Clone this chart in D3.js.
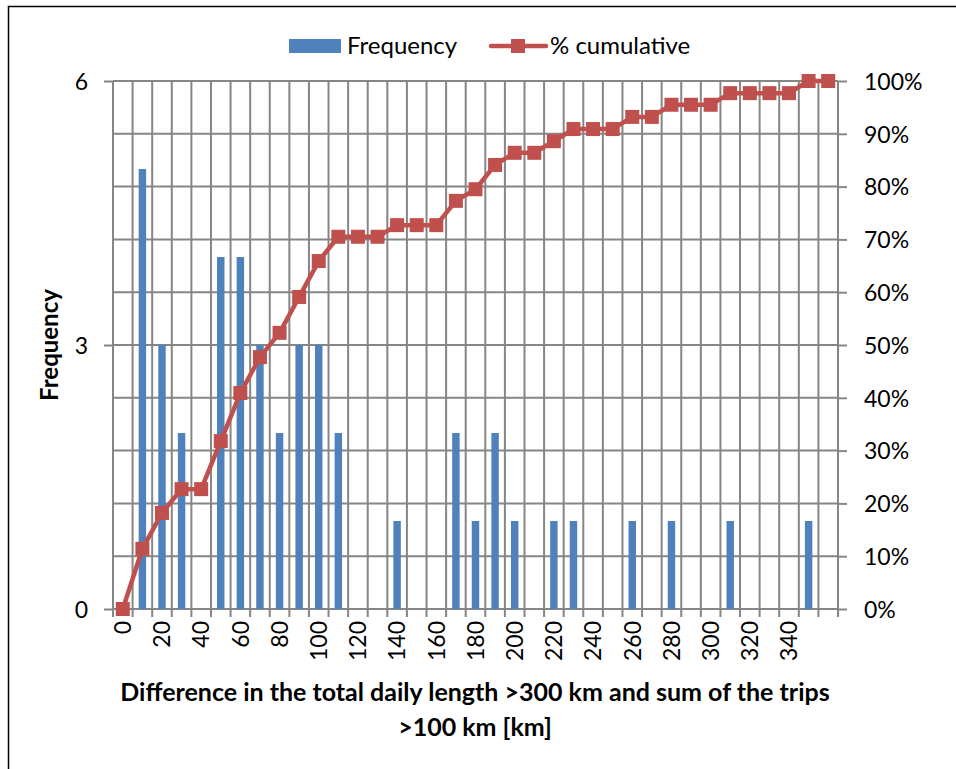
<!DOCTYPE html>
<html>
<head>
<meta charset="utf-8">
<script src="https://cdn.jsdelivr.net/npm/d3@7"></script>
<style>
  body { margin: 0; background: #fff; }
  text { font-family: Lato, "Open Sans", sans-serif; fill: #000; }
</style>
</head>
<body>
<div id="chart"></div>
<script>
// bins of the histogram (km)
const categories = [0, 10, 20, 30, 40, 50, 60, 70, 80, 90, 100, 110, 120, 130, 140, 150, 160, 170,
    180, 190, 200, 210, 220, 230, 240, 250, 260, 270, 280, 290, 300, 310, 320, 330, 340, 350, 360];
const frequency = [0, 5, 3, 2, 0, 4, 4, 3, 2, 3, 3, 2, 0, 0, 1, 0, 0, 2,
    1, 2, 1, 0, 1, 1, 0, 0, 1, 0, 1, 0, 0, 1, 0, 0, 0, 1, 0];
const cumulative = [0, 11.4, 18.2, 22.7, 22.7, 31.8, 40.9, 47.7, 52.3, 59.1, 65.9, 70.5, 70.5, 70.5, 72.7, 72.7, 72.7, 77.3,
    79.5, 84.1, 86.4, 86.4, 88.6, 90.9, 90.9, 90.9, 93.2, 93.2, 95.5, 95.5, 95.5, 97.7, 97.7, 97.7, 97.7, 100, 100];
const xTickLabels = [0, 20, 40, 60, 80, 100, 120, 140, 160, 180, 200, 220, 240, 260, 280, 300, 320, 340];
const leftTicks = [0, 3, 6];
const rightTicks = [0, 10, 20, 30, 40, 50, 60, 70, 80, 90, 100];

const W = 956, H = 769;
const plot = { left: 113, right: 838, top: 81, bottom: 609 };
const gridColor = "#868686";
const barColor = "#4f81bd";
const lineColor = "#c0504d";

const svg = d3.select("#chart")
    .append("svg")
    .attr("width", W)
    .attr("height", H);

svg.append("rect")
    .attr("x", 8.5).attr("y", 6.5)
    .attr("width", W).attr("height", H)
    .attr("fill", "#fff")
    .attr("stroke", "#000")
    .attr("stroke-width", 1.5);

const x = d3.scaleBand().domain(categories).range([plot.left, plot.right]).padding(0);
const y = d3.scaleLinear().domain([0, 6]).range([plot.bottom, plot.top]);
const y2 = d3.scaleLinear().domain([0, 100]).range([plot.bottom, plot.top]);

// horizontal grid follows the secondary axis
svg.append("g")
    .selectAll("line")
    .data(rightTicks)
    .enter()
    .append("line")
    .attr("x1", plot.left).attr("x2", plot.right)
    .attr("y1", d => y2(d)).attr("y2", d => y2(d))
    .attr("stroke", gridColor).attr("stroke-width", 2);

// vertical grid on the bin edges, running down as tick marks
const edges = categories.map(c => x(c)).concat([plot.right]);
svg.append("g")
    .selectAll("line")
    .data(edges)
    .enter()
    .append("line")
    .attr("x1", d => d).attr("x2", d => d)
    .attr("y1", plot.top).attr("y2", plot.bottom + 8)
    .attr("stroke", gridColor).attr("stroke-width", 2);

// left axis
const yAxis = svg.append("g")
    .attr("transform", `translate(${plot.left}, 0)`)
    .call(d3.axisLeft(y).tickValues(leftTicks).tickFormat(d3.format("d")).tickSize(9).tickPadding(16));
yAxis.select(".domain").remove();
yAxis.selectAll("line").attr("stroke", gridColor).attr("stroke-width", 2);
yAxis.selectAll("text").style("font-size", "23px").attr("dy", "0.36em");

// right axis
const y2Axis = svg.append("g")
    .attr("transform", `translate(${plot.right}, 0)`)
    .call(d3.axisRight(y2).tickValues(rightTicks).tickFormat(d => d + "%").tickSize(9).tickPadding(17));
y2Axis.select(".domain").remove();
y2Axis.selectAll("line").attr("stroke", gridColor).attr("stroke-width", 2);
y2Axis.selectAll("text").style("font-size", "23px").attr("dy", "0.36em");

// x tick labels, rotated
const xAxis = svg.append("g")
    .attr("transform", `translate(0, ${plot.bottom})`)
    .call(d3.axisBottom(x).tickValues(xTickLabels).tickSize(0));
xAxis.select(".domain").remove();
xAxis.selectAll("text")
    .style("font-size", "23px")
    .attr("text-anchor", "end")
    .attr("transform", "rotate(-90)")
    .attr("x", -12)
    .attr("y", 0)
    .attr("dy", "0.36em");

// bars
const barW = x.bandwidth() * 0.38;
svg.append("g")
    .selectAll("rect")
    .data(categories.map((c, i) => ({ c, v: frequency[i] })).filter(d => d.v > 0))
    .enter()
    .append("rect")
    .attr("x", d => x(d.c) + (x.bandwidth() - barW) / 2)
    .attr("y", d => y(d.v))
    .attr("width", barW)
    .attr("height", d => y(0) - y(d.v))
    .attr("fill", barColor);

// cumulative line
const pts = categories.map((c, i) => ({ c, v: cumulative[i] }));
const line = d3.line()
    .x(d => x(d.c) + x.bandwidth() / 2)
    .y(d => y2(d.v));

svg.append("path")
    .datum(pts)
    .attr("d", line)
    .attr("fill", "none")
    .attr("stroke", lineColor)
    .attr("stroke-width", 4.5)
    .attr("stroke-linejoin", "round");

const mk = 14;
svg.append("g")
    .selectAll("rect")
    .data(pts)
    .enter()
    .append("rect")
    .attr("x", d => x(d.c) + x.bandwidth() / 2 - mk / 2)
    .attr("y", d => y2(d.v) - mk / 2)
    .attr("width", mk)
    .attr("height", mk)
    .attr("fill", lineColor);

// axis titles
svg.append("text")
    .attr("transform", "translate(58, 345) rotate(-90)")
    .attr("text-anchor", "middle")
    .style("font-size", "24px")
    .style("font-weight", "bold")
    .text("Frequency");

svg.append("text")
    .attr("x", 475).attr("y", 701)
    .attr("text-anchor", "middle")
    .style("font-size", "25px")
    .style("font-weight", "bold")
    .text("Difference in the total daily length >300 km and sum of the trips");

svg.append("text")
    .attr("x", 475).attr("y", 736)
    .attr("text-anchor", "middle")
    .style("font-size", "25px")
    .style("font-weight", "bold")
    .text(">100 km [km]");

// legend
const legend = svg.append("g");
legend.append("rect")
    .attr("x", 289).attr("y", 39)
    .attr("width", 52).attr("height", 14)
    .attr("fill", barColor);
legend.append("text")
    .attr("x", 347).attr("y", 54)
    .style("font-size", "24px")
    .text("Frequency");
legend.append("line")
    .attr("x1", 491).attr("x2", 546)
    .attr("y1", 46).attr("y2", 46)
    .attr("stroke", lineColor).attr("stroke-width", 4.5)
    .attr("stroke-linecap", "round");
legend.append("rect")
    .attr("x", 511).attr("y", 39)
    .attr("width", mk).attr("height", mk)
    .attr("fill", lineColor);
legend.append("text")
    .attr("x", 550).attr("y", 54)
    .style("font-size", "24px")
    .text("% cumulative");
</script>
</body>
</html>
